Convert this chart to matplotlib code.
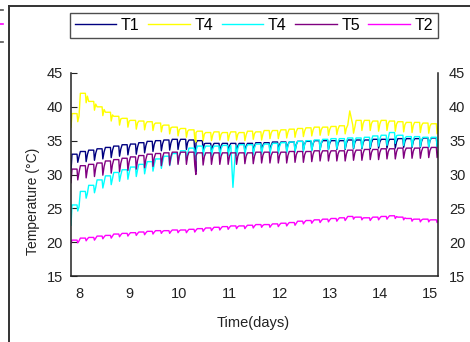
import numpy as np
import matplotlib
matplotlib.use("Agg")
import matplotlib.pyplot as plt
from matplotlib.lines import Line2D

plt.rcParams['font.family'] = ['Liberation Sans', 'DejaVu Sans']

# ---- data ----
t_start = 7.84
cycle_t = np.round(7.86 + np.arange(44) / 6.0, 3)   # 4-hour cycles

names = ["T1", "T4", "T4", "T5", "T2"]
colors = ["#000080", "#FFFF00", "#00FFFF", "#800080", "#FF00FF"]

start_vals = [30.5, 37.0, 22.5, 28.8, 19.8]

t1_peak = [33.0, 33.4, 33.6, 33.8, 34.0, 34.2, 34.4, 34.5, 34.7, 34.9, 35.0,
           35.1, 35.2, 35.2, 35.1, 35.0, 34.6, 34.6, 34.6, 34.6, 34.6, 34.6,
           34.7, 34.7, 34.8, 34.8, 34.8, 34.9, 34.9, 35.0, 35.0, 35.0, 35.0,
           35.1, 35.1, 35.1, 35.2, 35.2, 35.2, 35.3, 35.3, 35.3, 35.4, 35.4]
t1_dip = [31.8, 31.9, 32.1, 32.3, 32.5, 32.7, 32.9, 33.0, 33.2, 33.4, 33.5,
          33.6, 33.7, 33.7, 33.6, 33.5, 33.3, 33.3, 33.3, 33.3, 33.3, 33.3,
          33.4, 33.4, 33.5, 33.5, 33.5, 33.6, 33.6, 33.7, 33.7, 33.7, 33.7,
          33.8, 33.8, 33.8, 33.9, 33.9, 33.9, 34.0, 34.0, 34.0, 34.1, 34.1]

t4a_peak = [39.0, 42.0, 40.8, 40.0, 39.2, 38.6, 38.3, 38.0, 37.9, 37.8, 37.6,
            37.3, 37.0, 36.8, 36.6, 36.4, 36.2, 36.3, 36.2, 36.3, 36.2, 36.4,
            36.3, 36.5, 36.5, 36.6, 36.7, 36.8, 36.9, 37.0, 37.0, 37.1, 37.2,
            37.3, 38.0, 38.0, 37.9, 38.0, 37.9, 37.8, 37.7, 37.7, 37.6, 37.5]
t4a_dip = [37.8, 40.6, 39.5, 38.7, 37.9, 37.3, 37.0, 36.7, 36.6, 36.5, 36.3,
           36.0, 35.7, 35.5, 35.3, 35.0, 35.0, 35.1, 35.0, 35.1, 35.0, 35.2,
           35.1, 35.3, 35.3, 35.4, 35.5, 35.6, 35.7, 35.8, 35.8, 35.9, 36.0,
           36.1, 36.5, 36.5, 36.4, 36.5, 36.4, 36.3, 36.2, 36.2, 36.1, 36.0]

t4b_peak = [25.5, 27.5, 28.4, 29.2, 29.8, 30.3, 30.7, 31.1, 31.5, 31.9, 32.3,
            32.7, 33.1, 33.5, 33.9, 34.2, 34.2, 34.2, 34.3, 34.3, 34.4, 34.4,
            34.5, 34.5, 34.6, 34.7, 34.8, 34.9, 35.0, 35.1, 35.2, 35.3, 35.3,
            35.4, 35.4, 35.5, 35.7, 35.8, 36.2, 35.8, 35.6, 35.6, 35.5, 35.5]
t4b_dip = [24.6, 26.5, 27.3, 28.0, 28.5, 29.0, 29.3, 29.7, 30.1, 30.5, 30.9,
           31.3, 31.7, 32.1, 32.5, 32.8, 32.7, 32.7, 32.8, 32.8, 32.9, 32.9,
           33.0, 33.0, 33.1, 33.2, 33.3, 33.4, 33.5, 33.6, 33.7, 33.8, 33.8,
           33.9, 33.9, 34.0, 34.2, 34.3, 34.6, 34.3, 34.1, 34.1, 34.0, 34.0]

t5_peak = [30.8, 31.3, 31.5, 31.7, 32.0, 32.2, 32.4, 32.6, 32.8, 33.0, 33.1,
           33.2, 33.3, 33.3, 33.3, 33.2, 33.2, 33.2, 33.2, 33.2, 33.2, 33.2,
           33.3, 33.3, 33.3, 33.3, 33.4, 33.4, 33.4, 33.5, 33.5, 33.5, 33.5,
           33.6, 33.6, 33.7, 33.7, 33.8, 33.8, 33.9, 33.9, 33.9, 34.0, 34.0]
t5_dip = [29.2, 29.5, 29.7, 29.9, 30.2, 30.4, 30.6, 30.8, 31.0, 31.2, 31.3,
          31.4, 31.5, 31.5, 31.5, 31.4, 31.5, 31.5, 31.5, 31.5, 31.6, 31.6,
          31.7, 31.7, 31.7, 31.7, 31.8, 31.8, 31.9, 32.0, 32.0, 32.0, 32.0,
          32.1, 32.1, 32.2, 32.2, 32.3, 32.3, 32.4, 32.4, 32.4, 32.5, 32.5]

t2_peak = [20.3, 20.6, 20.7, 20.9, 21.0, 21.2, 21.3, 21.4, 21.5, 21.6, 21.7,
           21.7, 21.8, 21.8, 21.9, 22.0, 22.1, 22.2, 22.3, 22.4, 22.4, 22.5,
           22.6, 22.6, 22.7, 22.8, 22.9, 23.1, 23.2, 23.3, 23.4, 23.5, 23.6,
           23.8, 23.7, 23.6, 23.7, 23.8, 23.9, 23.7, 23.5, 23.4, 23.4, 23.3]
t2_dip = [19.9, 20.2, 20.3, 20.5, 20.6, 20.8, 20.9, 21.0, 21.1, 21.2, 21.3,
          21.3, 21.4, 21.4, 21.5, 21.6, 21.7, 21.8, 21.9, 22.0, 22.0, 22.1,
          22.2, 22.2, 22.3, 22.4, 22.5, 22.7, 22.8, 22.9, 23.0, 23.1, 23.2,
          23.4, 23.3, 23.2, 23.3, 23.4, 23.5, 23.3, 23.1, 23.0, 23.0, 22.9]

# isolated spikes (time, value)
t1_events = [(10.33, 30.4)]
t4a_events = [(10.33, 34.8), (13.40, 39.4)]
t4b_events = [(10.33, 32.0), (11.07, 28.1)]
t5_events = [(10.33, 30.0)]
t2_events = []

peaks = [t1_peak, t4a_peak, t4b_peak, t5_peak, t2_peak]
dips = [t1_dip, t4a_dip, t4b_dip, t5_dip, t2_dip]
events = [t1_events, t4a_events, t4b_events, t5_events, t2_events]

yticks = [15, 20, 25, 30, 35, 40, 45]
xticks = [8, 9, 10, 11, 12, 13, 14, 15]


def build(start, pk, dp, ev):
    xs = [t_start]
    ys = [start]
    for tk, p, d in zip(cycle_t, pk, dp):
        xs += [tk, tk + 0.10, tk + 0.115, tk + 0.14]
        ys += [p, p, d, p - 0.3 * (p - d)]
    for (te, ve) in ev:
        xs.append(te)
        ys.append(ve)
    order = np.argsort(xs, kind="stable")
    return np.array(xs)[order], np.array(ys)[order]


W, H = 470, 342
fig = plt.figure(figsize=(W / 100, H / 100), dpi=100)
ax = fig.add_axes([71 / W, 1 - 276 / H, (438 - 71) / W, (276 - 73) / H])

handles = []
for name, c, s, pk, dp, ev in zip(names, colors, start_vals, peaks, dips, events):
    x, y = build(s, pk, dp, ev)
    h, = ax.plot(x, y, color=c, lw=1.0, label=name)
    handles.append(h)

ax.set_xlim(7.84, 15.16)
ax.set_ylim(15, 45)
ax.set_xticks(xticks)
ax.set_yticks(yticks)
ax.spines['top'].set_visible(False)
for sp in ['left', 'right', 'bottom']:
    ax.spines[sp].set_linewidth(1.1)
    ax.spines[sp].set_color('#222222')
ax.tick_params(axis='x', length=0, pad=8, labelsize=10.5, colors='#222222')
ax.tick_params(axis='y', direction='in', length=4, pad=6, labelsize=10.5,
               colors='#222222', right=True)

ax2 = ax.twinx()
ax2.set_ylim(15, 45)
ax2.set_yticks(yticks)
for sp in ax2.spines.values():
    sp.set_visible(False)
ax2.tick_params(axis='y', direction='in', length=0, pad=8, labelsize=10.5,
                colors='#222222')

fig.text(253 / W, 1 - 323 / H, "Time(days)", ha='center', va='center',
         fontsize=10.5, color='#222222')
fig.text(33 / W, 1 - 201 / H, "Temperature (°C)", ha='center', va='center',
         rotation=90, fontsize=10, color='#222222')

leg = fig.legend(handles=handles, loc='center', ncol=5, mode='expand',
                 bbox_to_anchor=(70 / W, 1 - 42 / H, (438 - 70) / W, 33 / H),
                 frameon=True, fancybox=False, fontsize=11.5, handlelength=2.6,
                 handletextpad=0.3, columnspacing=1.0, borderaxespad=0,
                 borderpad=0.3)
leg.get_frame().set_edgecolor('#222222')
leg.get_frame().set_linewidth(1.0)

# outer frame and marks at the figure edge
fig.add_artist(Line2D([9 / W, 9 / W], [0, 1 - 6 / H], transform=fig.transFigure,
                      color='#333333', lw=1.4))
fig.add_artist(Line2D([9 / W, 1], [1 - 6 / H, 1 - 6 / H], transform=fig.transFigure,
                      color='#333333', lw=1.4))
for yy, cc in [(10, '#555555'), (24, '#FF00FF'), (42, '#555555')]:
    fig.add_artist(Line2D([0, 3 / W], [1 - yy / H, 1 - yy / H],
                          transform=fig.transFigure, color=cc, lw=1.2))

fig.savefig("out.png", dpi=100)
